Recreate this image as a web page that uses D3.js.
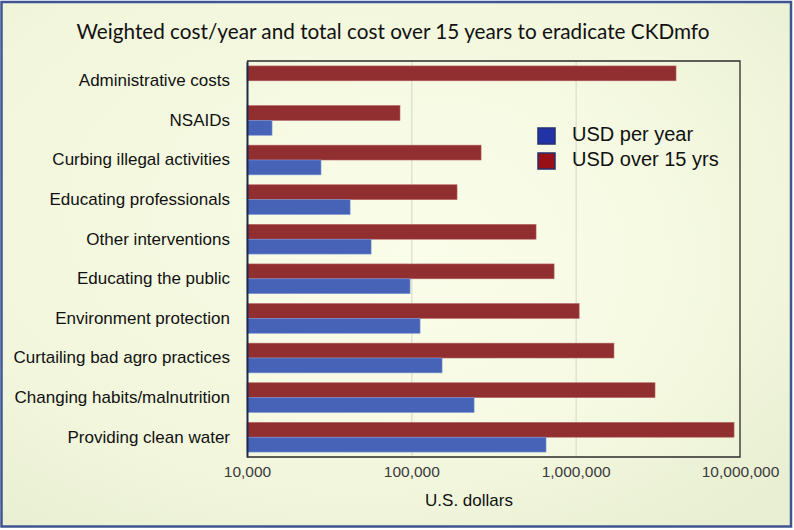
<!DOCTYPE html>
<html>
<head>
<meta charset="utf-8">
<script src="https://cdn.jsdelivr.net/npm/d3@7"></script>
<style>
  html, body { margin: 0; padding: 0; background: #ffffff; }
  svg { display: block; }
</style>
</head>
<body>
<svg id="chart" width="794" height="530"></svg>
<script>
// ---- data ----
const categories = [
  "Administrative costs",
  "NSAIDs",
  "Curbing illegal activities",
  "Educating professionals",
  "Other interventions",
  "Educating the public",
  "Environment protection",
  "Curtailing bad agro practices",
  "Changing habits/malnutrition",
  "Providing clean water"
];
const usdPerYear = [null, 14200, 28200, 42400, 56900, 98200, 113000, 153800, 240900, 660000];
const usdOver15 = [4080000, 85300, 265700, 189700, 574000, 739000, 1050000, 1710000, 3040000, 9200000];
const seriesNames = ["USD per year", "USD over 15 yrs"];
const tickValues = [10000, 100000, 1000000, 10000000];
const titleText = "Weighted cost/year and total cost over 15 years to eradicate CKDmfo";
const xTitle = "U.S. dollars";

// ---- layout ----
const svg = d3.select("#chart");
const plot = { left: 247, right: 740, top: 61, bottom: 457 };

const defs = svg.append("defs");
const bg = defs.append("radialGradient").attr("id", "bgGrad")
  .attr("cx", "45%").attr("cy", "40%").attr("r", "75%");
bg.append("stop").attr("offset", "0%").attr("stop-color", "#f8fbe4");
bg.append("stop").attr("offset", "70%").attr("stop-color", "#f1f6dc");
bg.append("stop").attr("offset", "100%").attr("stop-color", "#e9efd3");

const pg = defs.append("radialGradient").attr("id", "plotGrad")
  .attr("cx", "35%").attr("cy", "50%").attr("r", "80%");
pg.append("stop").attr("offset", "0%").attr("stop-color", "#fafde9");
pg.append("stop").attr("offset", "60%").attr("stop-color", "#f6fae3");
pg.append("stop").attr("offset", "100%").attr("stop-color", "#eef4d9");

// frame
svg.append("rect").attr("x", 1.5).attr("y", 2).attr("width", 789.5).attr("height", 524.5)
  .attr("fill", "url(#bgGrad)").attr("stroke", "#3f5490").attr("stroke-width", 2.5);

// plot bg
svg.append("rect").attr("x", plot.left).attr("y", plot.top)
  .attr("width", plot.right - plot.left).attr("height", plot.bottom - plot.top)
  .attr("fill", "url(#plotGrad)");

// scales
const x = d3.scaleLog().domain([1e4, 1e7]).range([plot.left, plot.right]);
const y = d3.scaleBand().domain(categories).range([plot.top, plot.bottom])
  .paddingInner(0.25).paddingOuter(0.125);
const sub = d3.scaleBand().domain(["over15", "perYear"]).range([0, y.bandwidth()]);

// gridlines
svg.append("g").attr("class", "grid")
  .attr("transform", `translate(0,${plot.bottom})`)
  .call(d3.axisBottom(x).tickValues(tickValues.slice(1, -1)).tickSize(-(plot.bottom - plot.top)).tickFormat(""))
  .call(g => g.select(".domain").remove())
  .call(g => g.selectAll("line").attr("stroke", "#d9ddcc").attr("stroke-width", 1.2));

// bars
const rows = categories.map((c, i) => ({ cat: c, perYear: usdPerYear[i], over15: usdOver15[i] }));

svg.append("g").selectAll("rect.red").data(rows).join("rect")
  .attr("class", "red")
  .attr("x", x(1e4))
  .attr("y", d => y(d.cat) + sub("over15"))
  .attr("width", d => x(d.over15) - x(1e4))
  .attr("height", sub.bandwidth())
  .attr("fill", "#902e30")
  .attr("stroke", "#b56565").attr("stroke-width", 0.6);

svg.append("g").selectAll("rect.blue").data(rows.filter(d => d.perYear != null)).join("rect")
  .attr("class", "blue")
  .attr("x", x(1e4))
  .attr("y", d => y(d.cat) + sub("perYear"))
  .attr("width", d => x(d.perYear) - x(1e4))
  .attr("height", sub.bandwidth())
  .attr("fill", "#4763b8")
  .attr("stroke", "#7d93d0").attr("stroke-width", 0.6);

// plot border (top/right/bottom)
svg.append("path")
  .attr("d", `M${plot.left},${plot.top}H${plot.right}V${plot.bottom}H${plot.left}`)
  .attr("fill", "none").attr("stroke", "#2b2b2b").attr("stroke-width", 1.3);

// y axis
svg.append("g").attr("transform", `translate(${plot.left},0)`)
  .call(d3.axisLeft(y).tickSize(0).tickPadding(17))
  .call(g => g.select(".domain").attr("stroke", "#1e2a4a").attr("stroke-width", 2))
  .call(g => g.selectAll("text")
    .attr("font-family", "Liberation Sans, Arial, sans-serif")
    .attr("font-size", 17).attr("fill", "#111"));

// x axis
svg.append("g").attr("transform", `translate(0,${plot.bottom})`)
  .call(d3.axisBottom(x).tickValues(tickValues).tickFormat(d3.format(",")).tickSize(0).tickPadding(9))
  .call(g => g.select(".domain").remove())
  .call(g => g.selectAll("text")
    .attr("font-family", "Liberation Sans, Arial, sans-serif")
    .attr("font-size", 15.5).attr("fill", "#3a3a3a"));

// x title
svg.append("text").attr("x", 469).attr("y", 506)
  .attr("text-anchor", "middle")
  .attr("font-family", "Liberation Sans, Arial, sans-serif")
  .attr("font-size", 17).attr("fill", "#111")
  .text(xTitle);

// title
svg.append("text").attr("x", 393).attr("y", 39)
  .attr("text-anchor", "middle")
  .attr("font-family", "Lato, 'Open Sans', sans-serif")
  .attr("font-size", 21).attr("fill", "#111")
  .attr("textLength", 633).attr("lengthAdjust", "spacingAndGlyphs")
  .text(titleText);

// legend
const legendColors = ["#2233aa", "#990f16"];
const leg = svg.append("g").attr("transform", "translate(538,128)");
seriesNames.forEach((name, i) => {
  const g = leg.append("g").attr("transform", `translate(0,${i * 25})`);
  g.append("rect").attr("x", 0).attr("y", 0).attr("width", 17).attr("height", 16)
    .attr("fill", legendColors[i]).attr("stroke", "#23306e").attr("stroke-width", 1.5);
  g.append("text").attr("x", 34).attr("y", 13)
    .attr("font-family", "Liberation Sans, Arial, sans-serif")
    .attr("font-size", 20).attr("fill", "#111")
    .text(name);
});
</script>
</body>
</html>
